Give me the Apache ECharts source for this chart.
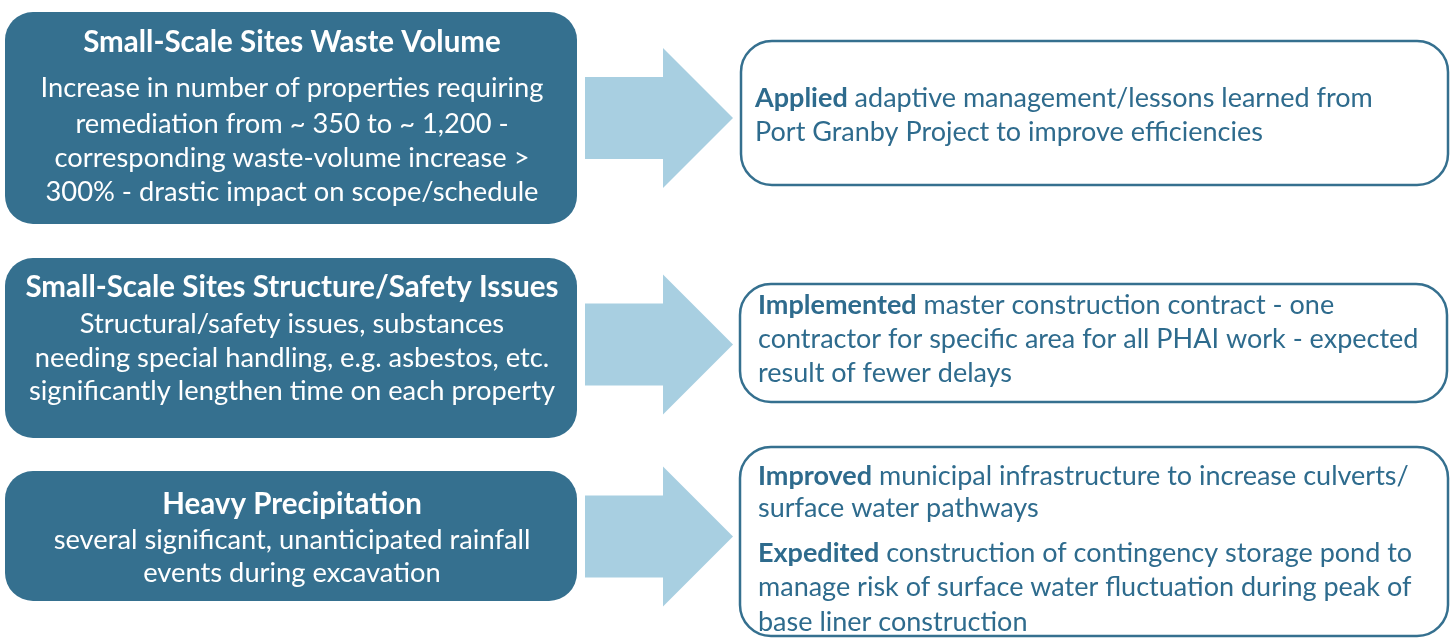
<!DOCTYPE html>
<html><head><meta charset="utf-8">
<script src="https://cdn.jsdelivr.net/npm/echarts@6/dist/echarts.min.js"></script>
<style>html,body{margin:0;padding:0;background:#fff;overflow:hidden}#c{width:1455px;height:638px}</style>
</head><body><div id="c"></div>
<script>
// ---- content ----
const issueTitles = [
  'Small-Scale Sites Waste Volume',
  'Small-Scale Sites Structure/Safety Issues',
  'Heavy Precipitation'
];
const issueBodies = [
  ['Increase in number of properties requiring',
   'remediation from ~ 350 to ~ 1,200 -',
   'corresponding waste-volume increase >',
   '300% - drastic impact on scope/schedule'],
  ['Structural/safety issues, substances',
   'needing special handling, e.g. asbestos, etc.',
   'significantly lengthen time on each property'],
  ['several significant, unanticipated rainfall',
   'events during excavation']
];
const responseLines = [
  ['{b|Applied} adaptive management/lessons learned from',
   'Port Granby Project to improve efficiencies'],
  ['{b|Implemented} master construction contract - one',
   'contractor for specific area for all PHAI work - expected',
   'result of fewer delays'],
  ['{b|Improved} municipal infrastructure to increase culverts/',
   'surface water pathways',
   '{b|Expedited} construction of contingency storage pond to',
   'manage risk of surface water fluctuation during peak of',
   'base liner construction']
];

// ---- layout ----
const leftBox = [[5, 12, 572, 212], [5, 258, 572, 180], [5, 471, 572, 130]];
const titleY = [42, 287, 504];
const bodyY = [[88, 124, 158, 192], [324, 358, 391], [540, 573]];
const rightBox = [[741, 41, 707, 144], [740, 284, 707, 118], [740, 447, 708, 189]];
const respY = [[98, 132], [305, 339, 373], [476, 508, 553, 587, 622]];
const respX = [755, 758, 758];
const arrowY = [118, 344.5, 536.5];

const DARK = '#35708f';
const ARROW = '#a8cfe1';
const TXT = '#2e6b8d';
const FONT = 'Lato, "Open Sans", sans-serif';
const BODY_SIZE = 27.3;
const RIGHT_SIZE = 27;
const TITLE_SIZE = 29.5;

const g = [];
leftBox.forEach((b, i) => {
  g.push({type: 'rect', shape: {x: b[0], y: b[1], width: b[2], height: b[3], r: 28}, style: {fill: DARK}});
  const cx = b[0] + b[2] / 2 + 1;
  g.push({type: 'text', x: cx, y: titleY[i], style: {text: issueTitles[i], fill: '#fff', font: 'bold ' + TITLE_SIZE + 'px ' + FONT, align: 'center', verticalAlign: 'middle'}});
  issueBodies[i].forEach((t, j) => {
    g.push({type: 'text', x: cx, y: bodyY[i][j], style: {text: t, fill: '#fff', font: BODY_SIZE + 'px ' + FONT, align: 'center', verticalAlign: 'middle'}});
  });
});
arrowY.forEach(cy => {
  g.push({type: 'polygon', shape: {points: [
    [585, cy - 41], [663, cy - 41], [663, cy - 70], [733, cy], [663, cy + 70], [663, cy + 41], [585, cy + 41]
  ]}, style: {fill: ARROW}});
});
rightBox.forEach((b, i) => {
  g.push({type: 'rect', shape: {x: b[0], y: b[1], width: b[2], height: b[3], r: 31}, style: {fill: '#fff', stroke: DARK, lineWidth: 2.5}});
  responseLines[i].forEach((t, j) => {
    g.push({type: 'text', x: respX[i], y: respY[i][j], style: {
      text: t, fill: TXT, font: RIGHT_SIZE + 'px ' + FONT, align: 'left', verticalAlign: 'middle',
      rich: {b: {fontWeight: 'bold', fontSize: RIGHT_SIZE, fontFamily: FONT, fill: TXT}}
    }});
  });
});

const chart = echarts.init(document.getElementById('c'));
chart.setOption({animation: false, graphic: {elements: g}});
</script>
</body></html>
